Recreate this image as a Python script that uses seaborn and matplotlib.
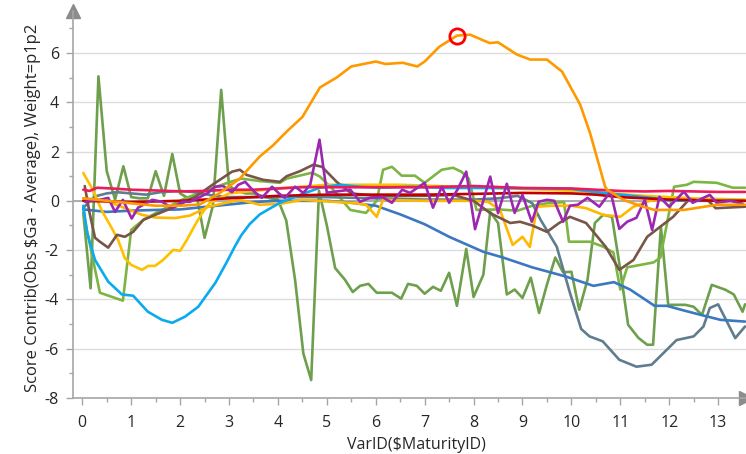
import numpy as np
import pandas as pd
import seaborn as sns
import matplotlib.pyplot as plt
from matplotlib.ticker import MultipleLocator

# ---- data ----
dgreen_x = [0.02, 0.17, 0.33, 0.5, 0.67, 0.84, 1.0, 1.17, 1.34, 1.5, 1.67, 1.84, 2.0, 2.17, 2.34, 2.5, 2.67, 2.84,
            3.0, 3.17, 3.34, 3.5, 3.67, 3.84, 4.0, 4.17, 4.35, 4.52, 4.68, 4.84, 5.0, 5.17, 5.37, 5.53, 5.68, 5.85,
            6.02, 6.18, 6.33, 6.52, 6.66, 6.84, 7.0, 7.17, 7.33, 7.5, 7.66, 7.85, 8.0, 8.2, 8.34, 8.5, 8.68, 8.84,
            9.0, 9.17, 9.34, 9.5, 9.67, 9.83, 10.0, 10.16, 10.33, 10.48, 10.65, 10.83, 11.0, 11.16, 11.37, 11.55,
            11.67, 11.83, 11.98, 12.33, 12.5, 12.67, 12.87, 13.15, 13.32, 13.5, 13.55]
dgreen_y = [-0.5, -3.55, 5.05, 1.2, 0.05, 1.4, 0.15, 0.1, 0.1, 1.2, 0.2, 1.9, 0.3, 0.1, 0.2, -1.5, -0.2, 4.5,
            0.6, 0.4, 0.3, 0.3, 0.2, 0.1, 0.05, -0.8, -3.2, -6.2, -7.27, 0.4, -1.0, -2.73, -3.2, -3.7, -3.45, -3.37,
            -3.73, -3.73, -3.73, -3.97, -3.37, -3.45, -3.77, -3.49, -3.65, -2.92, -4.26, -1.95, -3.9, -3.0, -0.45,
            -0.9, -3.8, -3.6, -3.94, -3.12, -4.55, -3.4, -2.3, -2.9, -2.88, -4.42, -3.2, -0.9, -0.57, -0.65, -2.8,
            -5.03, -5.56, -5.84, -5.84, -1.05, -4.22, -4.22, -4.3, -4.63, -3.41, -3.61, -3.8, -4.5, -4.2]

lgreen_x = [0.02, 0.05, 0.36, 0.83, 1.0, 1.25, 1.5, 1.8, 2.1, 2.57, 3.0, 3.25, 3.63, 4.04, 4.18, 4.7, 4.86, 5.13,
            5.48, 5.8, 6.02, 6.15, 6.33, 6.53, 6.8, 7.0, 7.35, 7.58, 7.75, 7.9, 8.06, 8.5, 8.9, 9.2, 9.5, 9.85, 9.95,
            10.38, 10.65, 10.86, 11.0, 11.14, 11.68, 11.82, 12.1, 12.36, 12.5, 12.97, 13.3, 13.55]
lgreen_y = [-0.3, -0.77, -3.73, -4.05, -1.18, -0.77, -0.5, -0.2, 0.1, 0.45, 0.75, 0.9, 0.8, 0.73, 0.9, 1.14, 0.98,
            0.45, -0.37, -0.49, 0.0, 1.26, 1.38, 1.02, 1.02, 0.73, 1.26, 1.34, 1.18, 0.9, -0.37, -0.35, -0.4, -0.2,
            -0.1, -0.05, -1.66, -1.66, -1.86, -2.1, -3.6, -2.7, -2.5, -2.3, 0.57, 0.65, 0.77, 0.73, 0.53, 0.53]

slate_x = [0.02, 0.15, 0.3, 0.5, 0.7, 1.0, 1.3, 1.6, 2.0, 2.3, 2.7, 3.0, 4.0, 5.0, 6.0, 7.0, 8.0, 8.5, 8.9, 9.2,
           9.37, 9.7, 9.97, 10.2, 10.37, 10.64, 10.98, 11.33, 11.64, 11.87, 12.15, 12.5, 12.7, 12.83, 13.0, 13.35, 13.55]
slate_y = [-0.3, 0.0, 0.2, 0.3, 0.35, 0.3, 0.25, 0.35, 0.4, 0.35, 0.2, 0.15, 0.15, 0.15, 0.1, 0.05, 0.05, 0.1, 0.2,
           -0.1, -0.77, -1.86, -3.73, -5.2, -5.5, -5.7, -6.45, -6.73, -6.65, -6.2, -5.65, -5.5, -5.1, -4.35, -4.2,
           -5.57, -5.1]

steel_x = [0.02, 0.5, 1.0, 1.5, 2.0, 2.5, 3.0, 3.5, 4.0, 4.5, 5.0, 5.5, 6.0, 6.5, 7.0, 7.5, 8.2, 8.6, 9.2, 9.9,
           10.45, 10.87, 11.2, 11.7, 11.95, 12.3, 12.65, 13.05, 13.55]
steel_y = [-0.35, -0.45, -0.4, -0.37, -0.35, -0.25, -0.15, -0.05, 0.0, 0.0, 0.0, -0.08, -0.2, -0.55, -0.95, -1.46,
           -2.07, -2.3, -2.7, -3.08, -3.45, -3.3, -3.6, -4.26, -4.26, -4.45, -4.63, -4.83, -4.9]

yellowa_x = [0.02, 0.2, 0.4, 0.6, 0.73, 0.87, 1.0, 1.22, 1.35, 1.49, 1.65, 1.86, 2.0, 2.14, 2.3, 2.45, 2.6, 3.0,
             4.0, 5.0, 6.5, 8.0, 9.5, 10.5, 11.5, 12.5, 13.55]
yellowa_y = [1.13, 0.5, -0.4, -1.1, -1.58, -2.33, -2.6, -2.8, -2.64, -2.64, -2.4, -1.99, -2.03, -1.58, -1.0, -0.5,
             -0.1, 0.3, 0.5, 0.65, 0.65, 0.55, 0.45, 0.35, 0.2, 0.1, 0.05]

yellowb_x = [0.02, 0.5, 1.0, 1.22, 1.5, 1.9, 2.2, 2.57, 3.0, 3.22, 3.63, 4.06, 4.5, 5.13, 5.6, 5.8, 6.02, 6.15,
             7.0, 8.0, 8.3, 8.54, 8.8, 9.0, 9.15, 9.3, 9.6, 10.0, 10.3, 10.65, 11.0, 11.27, 11.6, 12.0, 13.55]
yellowb_y = [0.1, 0.0, -0.4, -0.57, -0.68, -0.7, -0.6, -0.25, -0.05, 0.04, -0.16, -0.12, 0.04, -0.04, -0.1, -0.16,
             -0.65, 0.04, 0.0, 0.0, -0.05, -0.37, -1.79, -1.46, -1.87, -0.24, -0.2, -0.2, -0.3, -0.57, -0.65, -0.24,
             0.0, 0.05, 0.0]

brown_x = [0.05, 0.15, 0.26, 0.36, 0.53, 0.71, 0.87, 1.04, 1.25, 1.49, 1.9, 2.31, 2.72, 3.06, 3.22, 3.36, 3.7,
           4.04, 4.18, 4.45, 4.72, 4.9, 5.2, 5.5, 6.0, 7.0, 7.58, 8.0, 8.34, 8.75, 8.95, 9.2, 9.5, 9.75, 9.97, 10.3,
           10.7, 10.98, 11.27, 11.55, 12.08, 12.4, 12.8, 12.95, 13.55]
brown_y = [0.6, -0.5, -1.5, -1.66, -1.9, -1.38, -1.46, -1.26, -0.77, -0.57, -0.24, 0.16, 0.73, 1.18, 1.26, 1.05,
           0.85, 0.77, 1.0, 1.2, 1.46, 1.38, 0.77, 0.3, 0.2, 0.2, 0.24, 0.0, -0.5, -0.9, -0.85, -1.0, -1.26, -0.9,
           -0.65, -0.9, -1.86, -2.8, -2.4, -1.46, -0.65, 0.04, 0.0, -0.3, -0.24]

sky_x = [0.02, 0.1, 0.26, 0.53, 0.81, 1.04, 1.34, 1.63, 1.84, 2.1, 2.37, 2.72, 2.95, 3.12, 3.25, 3.42, 3.63, 4.04,
         4.45, 4.86, 5.27, 5.68, 6.09, 6.7, 7.5, 8.5, 9.5, 10.0, 10.5, 11.0, 11.5, 12.0, 12.5, 13.0, 13.55]
sky_y = [-0.2, -1.3, -2.4, -3.28, -3.8, -3.85, -4.5, -4.83, -4.95, -4.7, -4.3, -3.33, -2.5, -1.85, -1.4, -0.95,
         -0.55, -0.08, 0.24, 0.53, 0.65, 0.57, 0.53, 0.57, 0.52, 0.52, 0.5, 0.48, 0.35, 0.25, 0.15, 0.02, 0.0, 0.0, 0.0]

darkred_x = [0.02, 1.0, 2.0, 3.0, 4.0, 5.0, 6.0, 7.0, 8.0, 9.0, 10.0, 10.5, 11.0, 12.0, 13.0, 13.55]
darkred_y = [0.0, -0.05, 0.0, 0.1, 0.2, 0.25, 0.25, 0.25, 0.28, 0.32, 0.3, 0.25, 0.15, 0.05, 0.0, 0.0]

crimson_x = [0.02, 0.15, 0.3, 0.6, 1.0, 1.5, 2.0, 2.5, 3.0, 3.5, 4.0, 4.5, 5.0, 6.0, 7.0, 8.0, 9.0, 10.0, 10.5,
             11.0, 11.5, 12.0, 12.5, 13.0, 13.55]
crimson_y = [0.45, 0.4, 0.53, 0.5, 0.45, 0.42, 0.38, 0.4, 0.45, 0.45, 0.5, 0.55, 0.55, 0.55, 0.55, 0.6, 0.52, 0.5,
             0.45, 0.4, 0.38, 0.4, 0.38, 0.36, 0.36]

purple_x = [0.06, 0.36, 0.53, 0.67, 0.83, 1.01, 1.14, 1.43, 1.63, 1.84, 2.04, 2.2, 2.37, 2.57, 2.71, 2.88, 3.06,
            3.19, 3.33, 3.5, 3.67, 3.88, 4.02, 4.14, 4.35, 4.52, 4.66, 4.85, 5.0, 5.2, 5.48, 5.68, 5.88, 6.13, 6.33,
            6.54, 6.7, 7.0, 7.17, 7.35, 7.5, 7.67, 7.85, 8.03, 8.34, 8.5, 8.68, 8.84, 9.0, 9.19, 9.33, 9.5, 9.65,
            9.83, 9.97, 10.13, 10.33, 10.57, 10.8, 10.98, 11.14, 11.33, 11.5, 11.65, 11.8, 12.0, 12.3, 12.48, 12.83,
            12.97, 13.25, 13.5]
purple_y = [-0.04, 0.04, 0.12, -0.45, 0.04, -0.72, -0.28, 0.04, -0.04, -0.3, -0.04, -0.04, 0.12, 0.32, 0.57, 0.6,
            0.35, 0.65, 0.77, 0.4, 0.12, 0.57, 0.3, 0.12, 0.57, 0.32, 0.65, 2.48, 0.33, 0.38, 0.45, -0.04, 0.12,
            0.16, -0.08, 0.45, 0.32, 0.73, -0.28, 0.57, -0.08, 0.45, 1.18, -1.15, 0.98, -0.5, 0.69, -0.49, 0.24,
            -0.85, -0.04, 0.04, 0.0, -0.85, -0.2, -0.16, 0.12, -0.24, 0.37, -1.14, -0.85, -0.69, 0.04, -1.18, 0.16,
            -0.24, 0.37, -0.08, 0.24, -0.08, 0.0, -0.12]

orange_x = [0.02, 0.5, 1.0, 1.5, 2.0, 2.4, 2.8, 3.22, 3.4, 3.63, 3.9, 4.2, 4.5, 4.86, 5.2, 5.5, 6.0, 6.2, 6.55,
            6.85, 7.0, 7.3, 7.66, 7.93, 8.15, 8.33, 8.5, 8.89, 9.16, 9.5, 9.81, 10.18, 10.38, 10.69, 10.73, 11.06,
            11.4, 11.7, 12.3, 12.98, 13.55]
orange_y = [0.1, 0.0, -0.1, -0.2, -0.2, -0.15, 0.3, 0.9, 1.3, 1.8, 2.25, 2.85, 3.4, 4.6, 5.0, 5.45, 5.65, 5.55,
            5.6, 5.45, 5.65, 6.25, 6.7, 6.74, 6.55, 6.4, 6.43, 5.93, 5.73, 5.73, 5.24, 3.9, 2.76, 0.57, 0.45, 0.04,
            -0.2, -0.37, -0.37, -0.16, -0.16]

highlight_x = [7.66]
highlight_y = [6.7]

series = [
    ('dgreen', dgreen_x, dgreen_y, '#6E9F4C'),
    ('lgreen', lgreen_x, lgreen_y, '#7DB543'),
    ('slate', slate_x, slate_y, '#5F7D8E'),
    ('steel', steel_x, steel_y, '#3A78C2'),
    ('yellowa', yellowa_x, yellowa_y, '#FFC000'),
    ('yellowb', yellowb_x, yellowb_y, '#FFB800'),
    ('brown', brown_x, brown_y, '#795548'),
    ('sky', sky_x, sky_y, '#0AAAEE'),
    ('darkred', darkred_x, darkred_y, '#C00000'),
    ('crimson', crimson_x, crimson_y, '#EC1C5B'),
    ('purple', purple_x, purple_y, '#9C27B0'),
    ('orange', orange_x, orange_y, '#FF9900'),
]

df = pd.concat([pd.DataFrame({'x': sx, 'y': sy, 'name': n}) for n, sx, sy, c in series], ignore_index=True)
palette = {n: c for n, sx, sy, c in series}
order = [n for n, sx, sy, c in series]

sns.set_theme(style='white')
plt.rcParams['font.family'] = ['Open Sans', 'DejaVu Sans']
plt.rcParams['axes.unicode_minus'] = False

fig = plt.figure(figsize=(7.46, 4.54), dpi=100)
ax = fig.add_axes([73 / 746, 56 / 454, 673 / 746, 387 / 454])

ax.grid(axis='y', which='major', color='#DCDCDC', lw=1)
ax.axhline(0, color='#A8A8A8', lw=1.3, zorder=1)

sns.lineplot(data=df, x='x', y='y', hue='name', hue_order=order, palette=palette,
             estimator=None, sort=False, legend=False, lw=1.9, ax=ax)

ax.plot(highlight_x, highlight_y, 'o', ms=11, mfc='none', mec='#FF0000', mew=2, zorder=5)

ax.set_xlim(-0.19, 13.57)
ax.set_ylim(-8, 7.7)
ax.xaxis.set_major_locator(MultipleLocator(1))
ax.xaxis.set_minor_locator(MultipleLocator(0.5))
ax.set_yticks(range(-8, 7, 2))
ax.set_yticks(range(-7, 8, 2), minor=True)
ax.tick_params(which='both', direction='out', color='#A6A6A6', width=1, labelsize=11.5,
               labelcolor='#262626', bottom=True, left=True)
ax.tick_params(which='major', length=5, pad=5)
ax.tick_params(which='minor', length=3)
ax.tick_params(axis='x', pad=7)

for s in ['top', 'right']:
    ax.spines[s].set_visible(False)
for s in ['left', 'bottom']:
    ax.spines[s].set_color('#A6A6A6')
    ax.spines[s].set_linewidth(1.2)

ax.plot([0], [1.0], marker='^', ms=10, color='#8C8C8C', transform=ax.transAxes, clip_on=False)
ax.plot([1.0], [0], marker='>', ms=10, color='#8C8C8C', transform=ax.transAxes, clip_on=False)

ax.set_xlabel(r'VarID(\$MaturityID)', fontsize=11.5, color='#262626')
ax.set_ylabel(r'Score Contrib(Obs \$Ga - Average), Weight=p1p2', fontsize=12, color='#262626')
ax.xaxis.set_label_coords(0.511, -0.1)
ax.yaxis.set_label_coords(-0.048, 0.49)

fig.savefig('out.png', dpi=100)
